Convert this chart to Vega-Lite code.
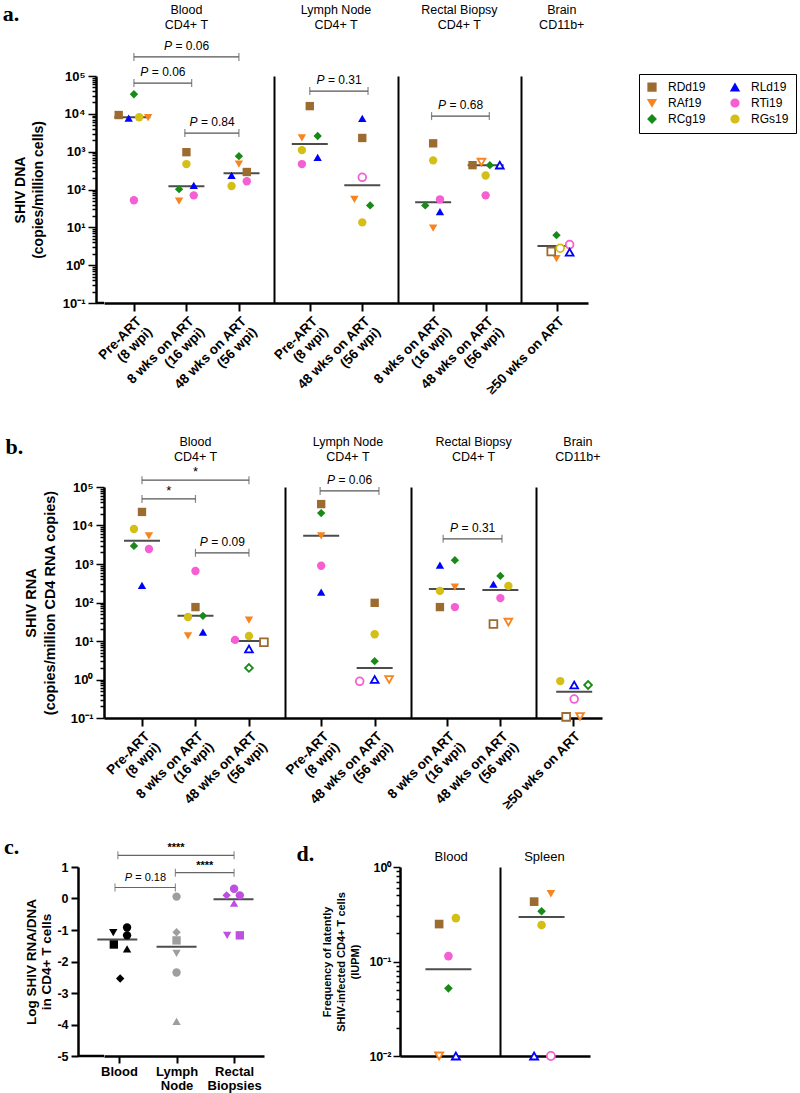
{
  "$schema": "https://vega.github.io/schema/vega-lite/v6.json",
  "background": "white",
  "padding": {"left": 2, "top": 2, "right": 2, "bottom": 2},
  "config": {
    "font": "Liberation Sans",
    "view": {"stroke": null},
    "axis": {"domainColor": "black", "domainWidth": 2.5, "tickColor": "black", "tickWidth": 2, "labelColor": "black", "labelFontWeight": "bold", "labelFontSize": 13, "titleColor": "black", "titleFontWeight": "bold", "grid": false, "labelOverlap": false},
    "text": {"color": "black"}
  },
  "datasets": {
    "dna": [
      {"s": "RCg19", "x": 1.0, "v": 33000}, {"s": "RDd19", "x": 0.71, "v": 9300}, {"s": "RLd19", "x": 0.9, "v": 7700}, {"s": "RGs19", "x": 1.1, "v": 8100}, {"s": "RAf19", "x": 1.27, "v": 7900}, {"s": "RTi19", "x": 1.0, "v": 52},
      {"s": "RDd19", "x": 2.0, "v": 970}, {"s": "RGs19", "x": 2.0, "v": 470}, {"s": "RCg19", "x": 1.86, "v": 102}, {"s": "RLd19", "x": 2.14, "v": 128}, {"s": "RAf19", "x": 1.86, "v": 49}, {"s": "RTi19", "x": 2.14, "v": 70},
      {"s": "RCg19", "x": 3.0, "v": 760}, {"s": "RAf19", "x": 3.0, "v": 470}, {"s": "RDd19", "x": 3.15, "v": 290}, {"s": "RLd19", "x": 2.86, "v": 235}, {"s": "RGs19", "x": 2.86, "v": 124}, {"s": "RTi19", "x": 3.15, "v": 165},
      {"s": "RDd19", "x": 4.35, "v": 16000}, {"s": "RAf19", "x": 4.2, "v": 2300}, {"s": "RCg19", "x": 4.5, "v": 2600}, {"s": "RGs19", "x": 4.2, "v": 1100}, {"s": "RLd19", "x": 4.5, "v": 710}, {"s": "RTi19", "x": 4.2, "v": 470},
      {"s": "RLd19", "x": 5.35, "v": 7600}, {"s": "RDd19", "x": 5.35, "v": 2300}, {"s": "RTi19", "x": 5.35, "v": 210, "o": 1}, {"s": "RAf19", "x": 5.2, "v": 55}, {"s": "RCg19", "x": 5.5, "v": 38}, {"s": "RGs19", "x": 5.35, "v": 13.5},
      {"s": "RDd19", "x": 6.7, "v": 1660}, {"s": "RGs19", "x": 6.7, "v": 590}, {"s": "RTi19", "x": 6.83, "v": 55}, {"s": "RCg19", "x": 6.55, "v": 38}, {"s": "RLd19", "x": 6.83, "v": 26}, {"s": "RAf19", "x": 6.7, "v": 9.5},
      {"s": "RDd19", "x": 7.45, "v": 440}, {"s": "RAf19", "x": 7.62, "v": 530, "o": 1}, {"s": "RCg19", "x": 7.78, "v": 440}, {"s": "RLd19", "x": 7.97, "v": 440, "o": 1}, {"s": "RGs19", "x": 7.7, "v": 235}, {"s": "RTi19", "x": 7.7, "v": 70},
      {"s": "RCg19", "x": 9.05, "v": 6.2}, {"s": "RDd19", "x": 8.95, "v": 2.3, "o": 1}, {"s": "RGs19", "x": 9.12, "v": 2.8, "o": 1}, {"s": "RTi19", "x": 9.3, "v": 3.5, "o": 1}, {"s": "RLd19", "x": 9.3, "v": 2.2, "o": 1}, {"s": "RAf19", "x": 9.05, "v": 1.5}
    ],
    "dnaMed": [
      {"x": 0.97, "v": 8100}, {"x": 2.0, "v": 122}, {"x": 3.05, "v": 270}, {"x": 4.35, "v": 1600}, {"x": 5.35, "v": 130}, {"x": 6.7, "v": 46}, {"x": 7.7, "v": 440}, {"x": 9.03, "v": 3.2}
    ],
    "dnaBr": [
      {"id": "a1", "x": 1, "y": 320000, "p": "= 0.06"}, {"id": "a1", "x": 3, "y": 320000, "p": "= 0.06"},
      {"id": "a2", "x": 1, "y": 65000, "p": "= 0.06"}, {"id": "a2", "x": 2.1, "y": 65000, "p": "= 0.06"},
      {"id": "a3", "x": 1.97, "y": 3100, "p": "= 0.84"}, {"id": "a3", "x": 3, "y": 3100, "p": "= 0.84"},
      {"id": "a4", "x": 4.35, "y": 40000, "p": "= 0.31"}, {"id": "a4", "x": 5.46, "y": 40000, "p": "= 0.31"},
      {"id": "a5", "x": 6.67, "y": 8700, "p": "= 0.68"}, {"id": "a5", "x": 7.77, "y": 8700, "p": "= 0.68"}
    ],
    "heads": [
      {"x": 2.0, "t": "Blood\nCD4+ T"}, {"x": 4.85, "t": "Lymph Node\nCD4+ T"}, {"x": 7.2, "t": "Rectal Biopsy\nCD4+ T"}, {"x": 9.15, "t": "Brain\nCD11b+"}
    ],
    "rna": [
      {"s": "RDd19", "x": 1.0, "v": 22500}, {"s": "RGs19", "x": 0.85, "v": 8100}, {"s": "RAf19", "x": 1.13, "v": 5400}, {"s": "RCg19", "x": 0.85, "v": 2950}, {"s": "RTi19", "x": 1.13, "v": 2450}, {"s": "RLd19", "x": 1.0, "v": 280},
      {"s": "RTi19", "x": 2.0, "v": 660}, {"s": "RDd19", "x": 2.0, "v": 76}, {"s": "RGs19", "x": 1.86, "v": 42}, {"s": "RCg19", "x": 2.14, "v": 45}, {"s": "RLd19", "x": 2.14, "v": 17}, {"s": "RAf19", "x": 1.86, "v": 13.5},
      {"s": "RAf19", "x": 3.0, "v": 35}, {"s": "RGs19", "x": 3.0, "v": 13.5}, {"s": "RTi19", "x": 2.74, "v": 10.7}, {"s": "RDd19", "x": 3.28, "v": 9.3, "o": 1}, {"s": "RLd19", "x": 3.0, "v": 6.2, "o": 1}, {"s": "RCg19", "x": 3.0, "v": 2.0, "o": 1},
      {"s": "RDd19", "x": 4.35, "v": 36000}, {"s": "RCg19", "x": 4.35, "v": 21000}, {"s": "RAf19", "x": 4.35, "v": 5400}, {"s": "RTi19", "x": 4.35, "v": 900}, {"s": "RLd19", "x": 4.35, "v": 186},
      {"s": "RDd19", "x": 5.35, "v": 98}, {"s": "RGs19", "x": 5.35, "v": 15}, {"s": "RCg19", "x": 5.35, "v": 3.0}, {"s": "RTi19", "x": 5.07, "v": 0.9, "o": 1}, {"s": "RLd19", "x": 5.35, "v": 1.0, "o": 1}, {"s": "RAf19", "x": 5.62, "v": 1.0, "o": 1},
      {"s": "RLd19", "x": 6.57, "v": 930}, {"s": "RCg19", "x": 6.85, "v": 1260}, {"s": "RGs19", "x": 6.57, "v": 200}, {"s": "RAf19", "x": 6.85, "v": 250}, {"s": "RDd19", "x": 6.57, "v": 76}, {"s": "RTi19", "x": 6.85, "v": 76},
      {"s": "RCg19", "x": 7.7, "v": 490}, {"s": "RLd19", "x": 7.57, "v": 300}, {"s": "RGs19", "x": 7.85, "v": 270}, {"s": "RTi19", "x": 7.7, "v": 130}, {"s": "RDd19", "x": 7.57, "v": 27.5, "o": 1}, {"s": "RAf19", "x": 7.85, "v": 31, "o": 1},
      {"s": "RGs19", "x": 8.82, "v": 0.91}, {"s": "RLd19", "x": 9.08, "v": 0.72, "o": 1}, {"s": "RCg19", "x": 9.34, "v": 0.72, "o": 1}, {"s": "RTi19", "x": 9.08, "v": 0.31, "o": 1}, {"s": "RDd19", "x": 8.93, "v": 0.107, "o": 1}, {"s": "RAf19", "x": 9.19, "v": 0.11, "o": 1}
    ],
    "rnaMed": [
      {"x": 1.0, "v": 4000}, {"x": 2.0, "v": 45}, {"x": 3.0, "v": 10}, {"x": 4.35, "v": 5400}, {"x": 5.35, "v": 2.0}, {"x": 6.7, "v": 225}, {"x": 7.7, "v": 210}, {"x": 9.08, "v": 0.48}
    ],
    "rnaBr": [
      {"id": "b1", "x": 1, "y": 150000, "sig": "*"}, {"id": "b1", "x": 3, "y": 150000, "sig": "*"},
      {"id": "b2", "x": 1, "y": 49000, "sig": "*"}, {"id": "b2", "x": 2, "y": 49000, "sig": "*"},
      {"id": "b3", "x": 2, "y": 1950, "p": "= 0.09"}, {"id": "b3", "x": 3, "y": 1950, "p": "= 0.09"},
      {"id": "b4", "x": 4.33, "y": 79000, "p": "= 0.06"}, {"id": "b4", "x": 5.43, "y": 79000, "p": "= 0.06"},
      {"id": "b5", "x": 6.63, "y": 4500, "p": "= 0.31"}, {"id": "b5", "x": 7.73, "y": 4500, "p": "= 0.31"}
    ],
    "ratio": [
      {"t": "Blood", "s": "RAf19", "x": 0.9, "v": -1.08}, {"t": "Blood", "s": "RGs19", "x": 1.14, "v": -0.92}, {"t": "Blood", "s": "RDd19", "x": 0.91, "v": -1.46}, {"t": "Blood", "s": "RTi19", "x": 1.14, "v": -1.17}, {"t": "Blood", "s": "RLd19", "x": 1.14, "v": -1.6}, {"t": "Blood", "s": "RCg19", "x": 1.02, "v": -2.54},
      {"t": "Lymph Node", "s": "RTi19", "x": 2.0, "v": 0.06}, {"t": "Lymph Node", "s": "RCg19", "x": 2.0, "v": -1.07}, {"t": "Lymph Node", "s": "RDd19", "x": 2.0, "v": -1.33}, {"t": "Lymph Node", "s": "RAf19", "x": 2.0, "v": -1.74}, {"t": "Lymph Node", "s": "RGs19", "x": 2.0, "v": -2.35}, {"t": "Lymph Node", "s": "RLd19", "x": 2.0, "v": -3.9},
      {"t": "Rectal Biopsies", "s": "RTi19", "x": 3.0, "v": 0.31}, {"t": "Rectal Biopsies", "s": "RCg19", "x": 2.87, "v": 0.1}, {"t": "Rectal Biopsies", "s": "RGs19", "x": 3.1, "v": 0.1}, {"t": "Rectal Biopsies", "s": "RLd19", "x": 3.0, "v": -0.15}, {"t": "Rectal Biopsies", "s": "RAf19", "x": 2.88, "v": -1.17}, {"t": "Rectal Biopsies", "s": "RDd19", "x": 3.1, "v": -1.17}
    ],
    "ratioMed": [{"x": 0.97, "v": -1.3}, {"x": 2.0, "v": -1.53}, {"x": 2.99, "v": -0.02}],
    "ratioBr": [
      {"id": "c1", "x": 0.98, "y": 1.37, "sig": "****"}, {"id": "c1", "x": 3.0, "y": 1.37, "sig": "****"},
      {"id": "c2", "x": 1.98, "y": 0.82, "sig": "****"}, {"id": "c2", "x": 3.0, "y": 0.82, "sig": "****"},
      {"id": "c3", "x": 0.93, "y": 0.35, "p": "= 0.18"}, {"id": "c3", "x": 1.98, "y": 0.35, "p": "= 0.18"}
    ],
    "iupm": [
      {"s": "RDd19", "x": 0.9, "v": 0.249}, {"s": "RGs19", "x": 1.08, "v": 0.288}, {"s": "RTi19", "x": 1.0, "v": 0.114}, {"s": "RCg19", "x": 1.0, "v": 0.052}, {"s": "RAf19", "x": 0.9, "v": 0.01, "o": 1}, {"s": "RLd19", "x": 1.08, "v": 0.01, "o": 1},
      {"s": "RDd19", "x": 1.92, "v": 0.43}, {"s": "RAf19", "x": 2.1, "v": 0.52}, {"s": "RCg19", "x": 2.0, "v": 0.34}, {"s": "RGs19", "x": 2.0, "v": 0.243}, {"s": "RLd19", "x": 1.92, "v": 0.01, "o": 1}, {"s": "RTi19", "x": 2.1, "v": 0.01, "o": 1}
    ],
    "iupmMed": [{"x": 1.0, "v": 0.083}, {"x": 2.0, "v": 0.295}],
    "iupmHead": [{"x": 1.03, "t": "Blood"}, {"x": 2.03, "t": "Spleen"}]
  },
  "resolve": {"scale": {"color": "independent", "shape": "independent"}},
  "columns": 1,
  "spacing": 18,
  "concat": [
    {
      "columns": 1,
      "spacing": 32,
      "resolve": {"scale": {"color": "independent", "shape": "independent"}},
      "concat": [
        {
          "width": 484,
          "height": 227,
          "layer": [
            {
              "data": {"name": "dnaMed"},
              "mark": {"type": "tick", "orient": "horizontal", "size": 36, "thickness": 2, "color": "black"},
              "encoding": {
                "x": {"field": "x", "type": "quantitative", "scale": {"domain": [0.43, 9.65], "nice": false, "zero": false},
                  "axis": {"values": [1, 2, 3, 3.675, 4.35, 5.35, 6.025, 6.7, 7.7, 8.375, 9.05], "title": null, "tickCount": 20,
                    "labelExpr": "datum.value == 1 || datum.value == 4.35 ? ['Pre-ART', '(8 wpi)'] : datum.value == 2 || datum.value == 6.7 ? ['8 wks on ART', '(16 wpi)'] : datum.value == 3 || datum.value == 5.35 || datum.value == 7.7 ? ['48 wks on ART', '(56 wpi)'] : datum.value == 9.05 ? '≥50 wks on ART' : ''",
                    "labelAngle": -45, "labelAlign": "right", "labelBaseline": "top", "labelOverlap": false, "labelFlush": false, "labelBound": false,
                    "labelFontSize": 13.5, "labelLineHeight": 15, "labelPadding": 3, "tickSize": 8,
                    "tickOpacity": {"condition": {"test": "indexof([3.675, 6.025, 8.375], datum.value) >= 0", "value": 0}, "value": 1},
                    "grid": true, "gridColor": "black", "gridWidth": 2,
                    "gridOpacity": {"condition": {"test": "indexof([3.675, 6.025, 8.375], datum.value) >= 0", "value": 1}, "value": 0}}},
                "y": {"field": "v", "type": "quantitative", "scale": {"type": "log", "domain": [0.1, 100000], "nice": false},
                  "axis": {"values": [0.1,0.2,0.3,0.4,0.5,0.6,0.7,0.8,0.9,1,2,3,4,5,6,7,8,9,10,20,30,40,50,60,70,80,90,100,200,300,400,500,600,700,800,900,1000,2000,3000,4000,5000,6000,7000,8000,9000,10000,20000,30000,40000,50000,60000,70000,80000,90000,100000],
                    "labelExpr": "datum.value == 100000 ? '10⁵' : datum.value == 10000 ? '10⁴' : datum.value == 1000 ? '10³' : datum.value == 100 ? '10²' : datum.value == 10 ? '10¹' : datum.value == 1 ? '10⁰' : datum.value == 0.1 ? '10⁻¹' : ''",
                    "labelOverlap": false, "labelFlush": false, "labelPadding": 3, "offset": 8,
                    "tickSize": {"condition": {"test": "indexof([0.1, 1, 10, 100, 1000, 10000, 100000], datum.value) >= 0", "value": 8}, "value": 4},
                    "tickWidth": 1.5,
                    "title": ["SHIV DNA", "(copies/million cells)"], "titleFontSize": 14, "titleLineHeight": 18, "titlePadding": 17}}
              }
            },
            {
              "data": {"values": [{}]},
              "mark": {"type": "rule", "color": "black", "strokeWidth": 2.5},
              "encoding": {
                "x": {"datum": 0.28, "type": "quantitative", "scale": {"domain": [0.43, 9.65], "nice": false, "zero": false}},
                "x2": {"datum": 0.43},
                "y": {"datum": 0.1, "type": "quantitative", "scale": {"type": "log", "domain": [0.1, 100000], "nice": false}}
              }
            },
            {
              "data": {"name": "dna"},
              "transform": [{"filter": "!datum.o"}],
              "mark": {"type": "point", "filled": true, "size": 70, "opacity": 1},
              "encoding": {
                "x": {"field": "x", "type": "quantitative", "scale": {"domain": [0.43, 9.65], "nice": false, "zero": false}},
                "y": {"field": "v", "type": "quantitative", "scale": {"type": "log", "domain": [0.1, 100000], "nice": false}},
                "color": {"field": "s", "type": "nominal", "title": null,
                  "scale": {"domain": ["RDd19", "RAf19", "RCg19", "RLd19", "RTi19", "RGs19"], "range": ["#9C6B30", "#F7841F", "#178A17", "#0000FF", "#F55FD3", "#D3BF15"]},
                  "legend": {"orient": "none", "legendX": 535, "legendY": -2, "columns": 2, "title": null, "strokeColor": "black", "padding": 7, "labelFontSize": 12, "symbolSize": 60, "columnPadding": 22, "rowPadding": 2, "labelOffset": 10, "encode": {"legend": {"update": {"strokeWidth": {"value": 2}}}}}},
                "shape": {"field": "s", "type": "nominal", "title": null,
                  "scale": {"domain": ["RDd19", "RAf19", "RCg19", "RLd19", "RTi19", "RGs19"], "range": ["square", "triangle-down", "diamond", "triangle-up", "circle", "circle"]},
                  "legend": {"orient": "none", "legendX": 535, "legendY": -2, "columns": 2, "title": null, "strokeColor": "black", "padding": 7, "labelFontSize": 12, "symbolSize": 60, "columnPadding": 22, "rowPadding": 2, "labelOffset": 10, "encode": {"legend": {"update": {"strokeWidth": {"value": 2}}}}}}
              }
            },
            {
              "data": {"name": "dna"},
              "transform": [{"filter": "datum.o"}],
              "mark": {"type": "point", "filled": false, "size": 60, "strokeWidth": 1.8, "opacity": 1, "fill": "white"},
              "encoding": {
                "x": {"field": "x", "type": "quantitative", "scale": {"domain": [0.43, 9.65], "nice": false, "zero": false}},
                "y": {"field": "v", "type": "quantitative", "scale": {"type": "log", "domain": [0.1, 100000], "nice": false}},
                "color": {"field": "s", "type": "nominal", "title": null,
                  "scale": {"domain": ["RDd19", "RAf19", "RCg19", "RLd19", "RTi19", "RGs19"], "range": ["#9C6B30", "#F7841F", "#178A17", "#0000FF", "#F55FD3", "#D3BF15"]},
                  "legend": {"orient": "none", "legendX": 535, "legendY": -2, "columns": 2, "title": null, "strokeColor": "black", "padding": 7, "labelFontSize": 12, "symbolSize": 60, "columnPadding": 22, "rowPadding": 2, "labelOffset": 10}},
                "shape": {"field": "s", "type": "nominal", "title": null,
                  "scale": {"domain": ["RDd19", "RAf19", "RCg19", "RLd19", "RTi19", "RGs19"], "range": ["square", "triangle-down", "diamond", "triangle-up", "circle", "circle"]},
                  "legend": {"orient": "none", "legendX": 535, "legendY": -2, "columns": 2, "title": null, "strokeColor": "black", "padding": 7, "labelFontSize": 12, "symbolSize": 60, "columnPadding": 22, "rowPadding": 2, "labelOffset": 10}}
              }
            },
            {
              "data": {"name": "dnaBr"},
              "mark": {"type": "line", "color": "#555555", "strokeWidth": 1.2},
              "encoding": {
                "x": {"field": "x", "type": "quantitative", "scale": {"domain": [0.43, 9.65], "nice": false, "zero": false}},
                "y": {"field": "y", "type": "quantitative", "scale": {"type": "log", "domain": [0.1, 100000], "nice": false}},
                "detail": {"field": "id"}
              }
            },
            {
              "data": {"name": "dnaBr"},
              "mark": {"type": "tick", "orient": "vertical", "size": 8, "thickness": 1.2, "color": "#555555"},
              "encoding": {
                "x": {"field": "x", "type": "quantitative", "scale": {"domain": [0.43, 9.65], "nice": false, "zero": false}},
                "y": {"field": "y", "type": "quantitative", "scale": {"type": "log", "domain": [0.1, 100000], "nice": false}}
              }
            },
            {
              "data": {"name": "dnaBr"},
              "transform": [{"filter": "datum.p"}, {"aggregate": [{"op": "mean", "field": "x", "as": "xm"}], "groupby": ["id", "y", "p"]}],
              "mark": {"type": "text", "fontSize": 12, "fontStyle": "italic", "align": "left", "baseline": "bottom", "dx": -22.5, "dy": -4},
              "encoding": {
                "x": {"field": "xm", "type": "quantitative", "scale": {"domain": [0.43, 9.65], "nice": false, "zero": false}},
                "y": {"field": "y", "type": "quantitative", "scale": {"type": "log", "domain": [0.1, 100000], "nice": false}},
                "text": {"value": "P"}
              }
            },
            {
              "data": {"name": "dnaBr"},
              "transform": [{"filter": "datum.p"}, {"aggregate": [{"op": "mean", "field": "x", "as": "xm"}], "groupby": ["id", "y", "p"]}],
              "mark": {"type": "text", "fontSize": 12, "align": "left", "baseline": "bottom", "dx": -11, "dy": -4},
              "encoding": {
                "x": {"field": "xm", "type": "quantitative", "scale": {"domain": [0.43, 9.65], "nice": false, "zero": false}},
                "y": {"field": "y", "type": "quantitative", "scale": {"type": "log", "domain": [0.1, 100000], "nice": false}},
                "text": {"field": "p"}
              }
            },
            {
              "data": {"name": "heads"},
              "mark": {"type": "text", "fontSize": 12.5, "lineBreak": "\n", "lineHeight": 15, "align": "center", "baseline": "middle"},
              "encoding": {
                "x": {"field": "x", "type": "quantitative", "scale": {"domain": [0.43, 9.65], "nice": false, "zero": false}},
                "y": {"datum": 5600000, "type": "quantitative", "scale": {"type": "log", "domain": [0.1, 100000], "nice": false}},
                "text": {"field": "t"}
              }
            },
            {
              "data": {"values": [{}]},
              "mark": {"type": "text", "font": "Liberation Serif", "fontWeight": "bold", "fontSize": 22, "align": "left", "baseline": "middle"},
              "encoding": {
                "x": {"datum": -1.5, "type": "quantitative", "scale": {"domain": [0.43, 9.65], "nice": false, "zero": false}},
                "y": {"datum": 4400000, "type": "quantitative", "scale": {"type": "log", "domain": [0.1, 100000], "nice": false}},
                "text": {"value": "a."}
              }
            }
          ]
        },
        {
          "width": 498,
          "height": 231,
          "layer": [
            {
              "data": {"name": "rnaMed"},
              "mark": {"type": "tick", "orient": "horizontal", "size": 36, "thickness": 2, "color": "black"},
              "encoding": {
                "x": {"field": "x", "type": "quantitative", "scale": {"domain": [0.29, 9.6], "nice": false, "zero": false},
                  "axis": {"values": [1, 2, 3, 3.675, 4.35, 5.35, 6.025, 6.7, 7.7, 8.375, 9.05], "title": null, "tickCount": 20,
                    "labelExpr": "datum.value == 1 || datum.value == 4.35 ? ['Pre-ART', '(8 wpi)'] : datum.value == 2 || datum.value == 6.7 ? ['8 wks on ART', '(16 wpi)'] : datum.value == 3 || datum.value == 5.35 || datum.value == 7.7 ? ['48 wks on ART', '(56 wpi)'] : datum.value == 9.05 ? '≥50 wks on ART' : ''",
                    "labelAngle": -45, "labelAlign": "right", "labelBaseline": "top", "labelOverlap": false, "labelFlush": false, "labelBound": false,
                    "labelFontSize": 13.5, "labelLineHeight": 15, "labelPadding": 3, "tickSize": 8,
                    "tickOpacity": {"condition": {"test": "indexof([3.675, 6.025, 8.375], datum.value) >= 0", "value": 0}, "value": 1},
                    "grid": true, "gridColor": "black", "gridWidth": 2,
                    "gridOpacity": {"condition": {"test": "indexof([3.675, 6.025, 8.375], datum.value) >= 0", "value": 1}, "value": 0}}},
                "y": {"field": "v", "type": "quantitative", "scale": {"type": "log", "domain": [0.1, 100000], "nice": false},
                  "axis": {"values": [0.1,0.2,0.3,0.4,0.5,0.6,0.7,0.8,0.9,1,2,3,4,5,6,7,8,9,10,20,30,40,50,60,70,80,90,100,200,300,400,500,600,700,800,900,1000,2000,3000,4000,5000,6000,7000,8000,9000,10000,20000,30000,40000,50000,60000,70000,80000,90000,100000],
                    "labelExpr": "datum.value == 100000 ? '10⁵' : datum.value == 10000 ? '10⁴' : datum.value == 1000 ? '10³' : datum.value == 100 ? '10²' : datum.value == 10 ? '10¹' : datum.value == 1 ? '10⁰' : datum.value == 0.1 ? '10⁻¹' : ''",
                    "labelOverlap": false, "labelFlush": false, "labelPadding": 3,
                    "tickSize": {"condition": {"test": "indexof([0.1, 1, 10, 100, 1000, 10000, 100000], datum.value) >= 0", "value": 8}, "value": 4},
                    "tickWidth": 1.5,
                    "title": ["SHIV RNA", "(copies/million CD4 RNA copies)"], "titleFontSize": 14.5, "titleLineHeight": 19, "titlePadding": 13}}
              }
            },
            {
              "data": {"name": "rna"},
              "transform": [{"filter": "!datum.o"}],
              "mark": {"type": "point", "filled": true, "size": 70, "opacity": 1},
              "encoding": {
                "x": {"field": "x", "type": "quantitative", "scale": {"domain": [0.29, 9.6], "nice": false, "zero": false}},
                "y": {"field": "v", "type": "quantitative", "scale": {"type": "log", "domain": [0.1, 100000], "nice": false}},
                "color": {"field": "s", "type": "nominal", "legend": null,
                  "scale": {"domain": ["RDd19", "RAf19", "RCg19", "RLd19", "RTi19", "RGs19"], "range": ["#9C6B30", "#F7841F", "#178A17", "#0000FF", "#F55FD3", "#D3BF15"]}},
                "shape": {"field": "s", "type": "nominal", "legend": null,
                  "scale": {"domain": ["RDd19", "RAf19", "RCg19", "RLd19", "RTi19", "RGs19"], "range": ["square", "triangle-down", "diamond", "triangle-up", "circle", "circle"]}}
              }
            },
            {
              "data": {"name": "rna"},
              "transform": [{"filter": "datum.o"}],
              "mark": {"type": "point", "filled": false, "size": 60, "strokeWidth": 1.8, "opacity": 1, "fill": "white"},
              "encoding": {
                "x": {"field": "x", "type": "quantitative", "scale": {"domain": [0.29, 9.6], "nice": false, "zero": false}},
                "y": {"field": "v", "type": "quantitative", "scale": {"type": "log", "domain": [0.1, 100000], "nice": false}},
                "color": {"field": "s", "type": "nominal", "legend": null,
                  "scale": {"domain": ["RDd19", "RAf19", "RCg19", "RLd19", "RTi19", "RGs19"], "range": ["#9C6B30", "#F7841F", "#178A17", "#0000FF", "#F55FD3", "#D3BF15"]}},
                "shape": {"field": "s", "type": "nominal", "legend": null,
                  "scale": {"domain": ["RDd19", "RAf19", "RCg19", "RLd19", "RTi19", "RGs19"], "range": ["square", "triangle-down", "diamond", "triangle-up", "circle", "circle"]}}
              }
            },
            {
              "data": {"name": "rnaBr"},
              "mark": {"type": "line", "color": "#555555", "strokeWidth": 1.2},
              "encoding": {
                "x": {"field": "x", "type": "quantitative", "scale": {"domain": [0.29, 9.6], "nice": false, "zero": false}},
                "y": {"field": "y", "type": "quantitative", "scale": {"type": "log", "domain": [0.1, 100000], "nice": false}},
                "detail": {"field": "id"}
              }
            },
            {
              "data": {"name": "rnaBr"},
              "mark": {"type": "tick", "orient": "vertical", "size": 8, "thickness": 1.2, "color": "#555555"},
              "encoding": {
                "x": {"field": "x", "type": "quantitative", "scale": {"domain": [0.29, 9.6], "nice": false, "zero": false}},
                "y": {"field": "y", "type": "quantitative", "scale": {"type": "log", "domain": [0.1, 100000], "nice": false}}
              }
            },
            {
              "data": {"name": "rnaBr"},
              "transform": [{"filter": "datum.p"}, {"aggregate": [{"op": "mean", "field": "x", "as": "xm"}], "groupby": ["id", "y", "p"]}],
              "mark": {"type": "text", "fontSize": 12, "fontStyle": "italic", "align": "left", "baseline": "bottom", "dx": -22.5, "dy": -4},
              "encoding": {
                "x": {"field": "xm", "type": "quantitative", "scale": {"domain": [0.29, 9.6], "nice": false, "zero": false}},
                "y": {"field": "y", "type": "quantitative", "scale": {"type": "log", "domain": [0.1, 100000], "nice": false}},
                "text": {"value": "P"}
              }
            },
            {
              "data": {"name": "rnaBr"},
              "transform": [{"filter": "datum.p"}, {"aggregate": [{"op": "mean", "field": "x", "as": "xm"}], "groupby": ["id", "y", "p"]}],
              "mark": {"type": "text", "fontSize": 12, "align": "left", "baseline": "bottom", "dx": -11, "dy": -4},
              "encoding": {
                "x": {"field": "xm", "type": "quantitative", "scale": {"domain": [0.29, 9.6], "nice": false, "zero": false}},
                "y": {"field": "y", "type": "quantitative", "scale": {"type": "log", "domain": [0.1, 100000], "nice": false}},
                "text": {"field": "p"}
              }
            },
            {
              "data": {"name": "rnaBr"},
              "transform": [{"filter": "datum.sig"}, {"aggregate": [{"op": "mean", "field": "x", "as": "xm"}], "groupby": ["id", "y", "sig"]}],
              "mark": {"type": "text", "fontSize": 13, "align": "center", "baseline": "bottom", "dy": -1},
              "encoding": {
                "x": {"field": "xm", "type": "quantitative", "scale": {"domain": [0.29, 9.6], "nice": false, "zero": false}},
                "y": {"field": "y", "type": "quantitative", "scale": {"type": "log", "domain": [0.1, 100000], "nice": false}},
                "text": {"field": "sig"}
              }
            },
            {
              "data": {"name": "heads"},
              "mark": {"type": "text", "fontSize": 12.5, "lineBreak": "\n", "lineHeight": 15, "align": "center", "baseline": "middle"},
              "encoding": {
                "x": {"field": "x", "type": "quantitative", "scale": {"domain": [0.29, 9.6], "nice": false, "zero": false}},
                "y": {"datum": 1480000, "type": "quantitative", "scale": {"type": "log", "domain": [0.1, 100000], "nice": false}},
                "text": {"field": "t"}
              }
            },
            {
              "data": {"values": [{}]},
              "mark": {"type": "text", "font": "Liberation Serif", "fontWeight": "bold", "fontSize": 22, "align": "left", "baseline": "middle"},
              "encoding": {
                "x": {"datum": -1.55, "type": "quantitative", "scale": {"domain": [0.29, 9.6], "nice": false, "zero": false}},
                "y": {"datum": 1100000, "type": "quantitative", "scale": {"type": "log", "domain": [0.1, 100000], "nice": false}},
                "text": {"value": "b."}
              }
            }
          ]
        }
      ]
    },
    {
      "spacing": 32,
      "resolve": {"scale": {"color": "independent", "shape": "independent"}},
      "hconcat": [
        {
          "width": 160,
          "height": 189,
          "layer": [
            {
              "data": {"name": "ratioMed"},
              "mark": {"type": "tick", "orient": "horizontal", "size": 40, "thickness": 2, "color": "black"},
              "encoding": {
                "x": {"field": "x", "type": "quantitative", "scale": {"domain": [0.739, 3.52], "nice": false, "zero": false},
                  "axis": {"values": [1, 2, 3], "title": null, "tickCount": 10, "labelExpr": "datum.value == 1 ? 'Blood' : datum.value == 2 ? ['Lymph', 'Node'] : datum.value == 3 ? ['Rectal', 'Biopsies'] : ''",
                    "labelAngle": 0, "labelAlign": "center", "labelBaseline": "top", "labelFontSize": 13, "labelLineHeight": 14, "labelOverlap": false, "labelFlush": false, "tickSize": 7, "labelPadding": 2}},
                "y": {"field": "v", "type": "quantitative", "scale": {"domain": [-5, 1], "nice": false, "zero": false},
                  "axis": {"values": [-5, -4, -3, -2, -1, 0, 1], "tickCount": 10, "labelExpr": "datum.value == 0 ? '0' : datum.value < 0 ? '-' + abs(datum.value) : '' + datum.value",
                    "tickSize": 7, "labelPadding": 3, "labelFontSize": 12.5, "offset": 26, "labelOverlap": false, "labelFlush": false, "labelBound": false,
                    "title": ["Log SHIV RNA/DNA", "in CD4+ T cells"], "titleFontSize": 13.5, "titleLineHeight": 15, "titlePadding": 3}}
              }
            },
            {
              "data": {"values": [{}]},
              "mark": {"type": "rule", "color": "black", "strokeWidth": 2.5},
              "encoding": {
                "x": {"datum": 0.29, "type": "quantitative", "scale": {"domain": [0.739, 3.52], "nice": false, "zero": false}},
                "x2": {"datum": 0.739},
                "y": {"datum": -5, "type": "quantitative", "scale": {"domain": [-5, 1], "nice": false, "zero": false}}
              }
            },
            {
              "data": {"name": "ratio"},
              "mark": {"type": "point", "filled": true, "size": 70, "opacity": 1},
              "encoding": {
                "x": {"field": "x", "type": "quantitative", "scale": {"domain": [0.739, 3.52], "nice": false, "zero": false}},
                "y": {"field": "v", "type": "quantitative", "scale": {"domain": [-5, 1], "nice": false, "zero": false}},
                "color": {"field": "t", "type": "nominal", "legend": null,
                  "scale": {"domain": ["Blood", "Lymph Node", "Rectal Biopsies"], "range": ["#000000", "#9E9E9E", "#BE4FE0"]}},
                "shape": {"field": "s", "type": "nominal", "legend": null,
                  "scale": {"domain": ["RDd19", "RAf19", "RCg19", "RLd19", "RTi19", "RGs19"], "range": ["square", "triangle-down", "diamond", "triangle-up", "circle", "circle"]}}
              }
            },
            {
              "data": {"name": "ratioBr"},
              "mark": {"type": "line", "color": "#666666", "strokeWidth": 1.2},
              "encoding": {
                "x": {"field": "x", "type": "quantitative", "scale": {"domain": [0.739, 3.52], "nice": false, "zero": false}},
                "y": {"field": "y", "type": "quantitative", "scale": {"domain": [-5, 1], "nice": false, "zero": false}},
                "detail": {"field": "id"}
              }
            },
            {
              "data": {"name": "ratioBr"},
              "mark": {"type": "tick", "orient": "vertical", "size": 8, "thickness": 1.2, "color": "#666666"},
              "encoding": {
                "x": {"field": "x", "type": "quantitative", "scale": {"domain": [0.739, 3.52], "nice": false, "zero": false}},
                "y": {"field": "y", "type": "quantitative", "scale": {"domain": [-5, 1], "nice": false, "zero": false}}
              }
            },
            {
              "data": {"name": "ratioBr"},
              "transform": [{"filter": "datum.p"}, {"aggregate": [{"op": "mean", "field": "x", "as": "xm"}], "groupby": ["id", "y", "p"]}],
              "mark": {"type": "text", "fontSize": 11, "fontStyle": "italic", "align": "left", "baseline": "bottom", "dx": -20.5, "dy": -4},
              "encoding": {
                "x": {"field": "xm", "type": "quantitative", "scale": {"domain": [0.739, 3.52], "nice": false, "zero": false}},
                "y": {"field": "y", "type": "quantitative", "scale": {"domain": [-5, 1], "nice": false, "zero": false}},
                "text": {"value": "P"}
              }
            },
            {
              "data": {"name": "ratioBr"},
              "transform": [{"filter": "datum.p"}, {"aggregate": [{"op": "mean", "field": "x", "as": "xm"}], "groupby": ["id", "y", "p"]}],
              "mark": {"type": "text", "fontSize": 11, "align": "left", "baseline": "bottom", "dx": -10, "dy": -4},
              "encoding": {
                "x": {"field": "xm", "type": "quantitative", "scale": {"domain": [0.739, 3.52], "nice": false, "zero": false}},
                "y": {"field": "y", "type": "quantitative", "scale": {"domain": [-5, 1], "nice": false, "zero": false}},
                "text": {"field": "p"}
              }
            },
            {
              "data": {"name": "ratioBr"},
              "transform": [{"filter": "datum.sig"}, {"aggregate": [{"op": "mean", "field": "x", "as": "xm"}], "groupby": ["id", "y", "sig"]}],
              "mark": {"type": "text", "fontSize": 11, "fontWeight": "bold", "align": "center", "baseline": "bottom", "dy": -2},
              "encoding": {
                "x": {"field": "xm", "type": "quantitative", "scale": {"domain": [0.739, 3.52], "nice": false, "zero": false}},
                "y": {"field": "y", "type": "quantitative", "scale": {"domain": [-5, 1], "nice": false, "zero": false}},
                "text": {"field": "sig"}
              }
            },
            {
              "data": {"values": [{}]},
              "mark": {"type": "text", "font": "Liberation Serif", "fontWeight": "bold", "fontSize": 22, "align": "left", "baseline": "middle"},
              "encoding": {
                "x": {"datum": -1.0, "type": "quantitative", "scale": {"domain": [0.739, 3.52], "nice": false, "zero": false}},
                "y": {"datum": 1.62, "type": "quantitative", "scale": {"domain": [-5, 1], "nice": false, "zero": false}},
                "text": {"value": "c."}
              }
            }
          ]
        },
        {
          "width": 190,
          "height": 189,
          "layer": [
            {
              "data": {"name": "iupmMed"},
              "mark": {"type": "tick", "orient": "horizontal", "size": 46, "thickness": 2, "color": "black"},
              "encoding": {
                "x": {"field": "x", "type": "quantitative", "scale": {"domain": [0.48, 2.52], "nice": false, "zero": false},
                  "axis": {"values": [1.55], "title": null, "labels": false, "ticks": false, "grid": true, "gridColor": "black", "gridWidth": 2}},
                "y": {"field": "v", "type": "quantitative", "scale": {"type": "log", "domain": [0.01, 1], "nice": false},
                  "axis": {"values": [0.01,0.02,0.03,0.04,0.05,0.06,0.07,0.08,0.09,0.1,0.2,0.3,0.4,0.5,0.6,0.7,0.8,0.9,1],
                    "labelExpr": "datum.value == 1 ? '10⁰' : datum.value == 0.1 ? '10⁻¹' : datum.value == 0.01 ? '10⁻²' : ''",
                    "labelOverlap": false, "labelFlush": false, "labelPadding": 2, "labelFontSize": 12.5,
                    "tickSize": {"condition": {"test": "indexof([0.01, 0.1, 1], datum.value) >= 0", "value": 7}, "value": 4},
                    "tickWidth": 1.5,
                    "title": ["Frequency of latently", "SHIV-infected CD4+ T cells", "(IUPM)"], "titleFontSize": 11, "titleLineHeight": 14, "titlePadding": 8}}
              }
            },
            {
              "data": {"name": "iupm"},
              "transform": [{"filter": "!datum.o"}],
              "mark": {"type": "point", "filled": true, "size": 75, "opacity": 1},
              "encoding": {
                "x": {"field": "x", "type": "quantitative", "scale": {"domain": [0.48, 2.52], "nice": false, "zero": false}},
                "y": {"field": "v", "type": "quantitative", "scale": {"type": "log", "domain": [0.01, 1], "nice": false}},
                "color": {"field": "s", "type": "nominal", "legend": null,
                  "scale": {"domain": ["RDd19", "RAf19", "RCg19", "RLd19", "RTi19", "RGs19"], "range": ["#9C6B30", "#F7841F", "#178A17", "#0000FF", "#F55FD3", "#D3BF15"]}},
                "shape": {"field": "s", "type": "nominal", "legend": null,
                  "scale": {"domain": ["RDd19", "RAf19", "RCg19", "RLd19", "RTi19", "RGs19"], "range": ["square", "triangle-down", "diamond", "triangle-up", "circle", "circle"]}}
              }
            },
            {
              "data": {"name": "iupm"},
              "transform": [{"filter": "datum.o"}],
              "mark": {"type": "point", "filled": false, "size": 65, "strokeWidth": 1.8, "opacity": 1, "fill": "white"},
              "encoding": {
                "x": {"field": "x", "type": "quantitative", "scale": {"domain": [0.48, 2.52], "nice": false, "zero": false}},
                "y": {"field": "v", "type": "quantitative", "scale": {"type": "log", "domain": [0.01, 1], "nice": false}},
                "color": {"field": "s", "type": "nominal", "legend": null,
                  "scale": {"domain": ["RDd19", "RAf19", "RCg19", "RLd19", "RTi19", "RGs19"], "range": ["#9C6B30", "#F7841F", "#178A17", "#0000FF", "#F55FD3", "#D3BF15"]}},
                "shape": {"field": "s", "type": "nominal", "legend": null,
                  "scale": {"domain": ["RDd19", "RAf19", "RCg19", "RLd19", "RTi19", "RGs19"], "range": ["square", "triangle-down", "diamond", "triangle-up", "circle", "circle"]}}
              }
            },
            {
              "data": {"name": "iupmHead"},
              "mark": {"type": "text", "fontSize": 13, "align": "center", "baseline": "middle"},
              "encoding": {
                "x": {"field": "x", "type": "quantitative", "scale": {"domain": [0.48, 2.52], "nice": false, "zero": false}},
                "y": {"datum": 1.27, "type": "quantitative", "scale": {"type": "log", "domain": [0.01, 1], "nice": false}},
                "text": {"field": "t"}
              }
            },
            {
              "data": {"values": [{}]},
              "mark": {"type": "text", "font": "Liberation Serif", "fontWeight": "bold", "fontSize": 22, "align": "left", "baseline": "middle"},
              "encoding": {
                "x": {"datum": -0.63, "type": "quantitative", "scale": {"domain": [0.48, 2.52], "nice": false, "zero": false}},
                "y": {"datum": 1.37, "type": "quantitative", "scale": {"type": "log", "domain": [0.01, 1], "nice": false}},
                "text": {"value": "d."}
              }
            }
          ]
        }
      ]
    }
  ]
}
